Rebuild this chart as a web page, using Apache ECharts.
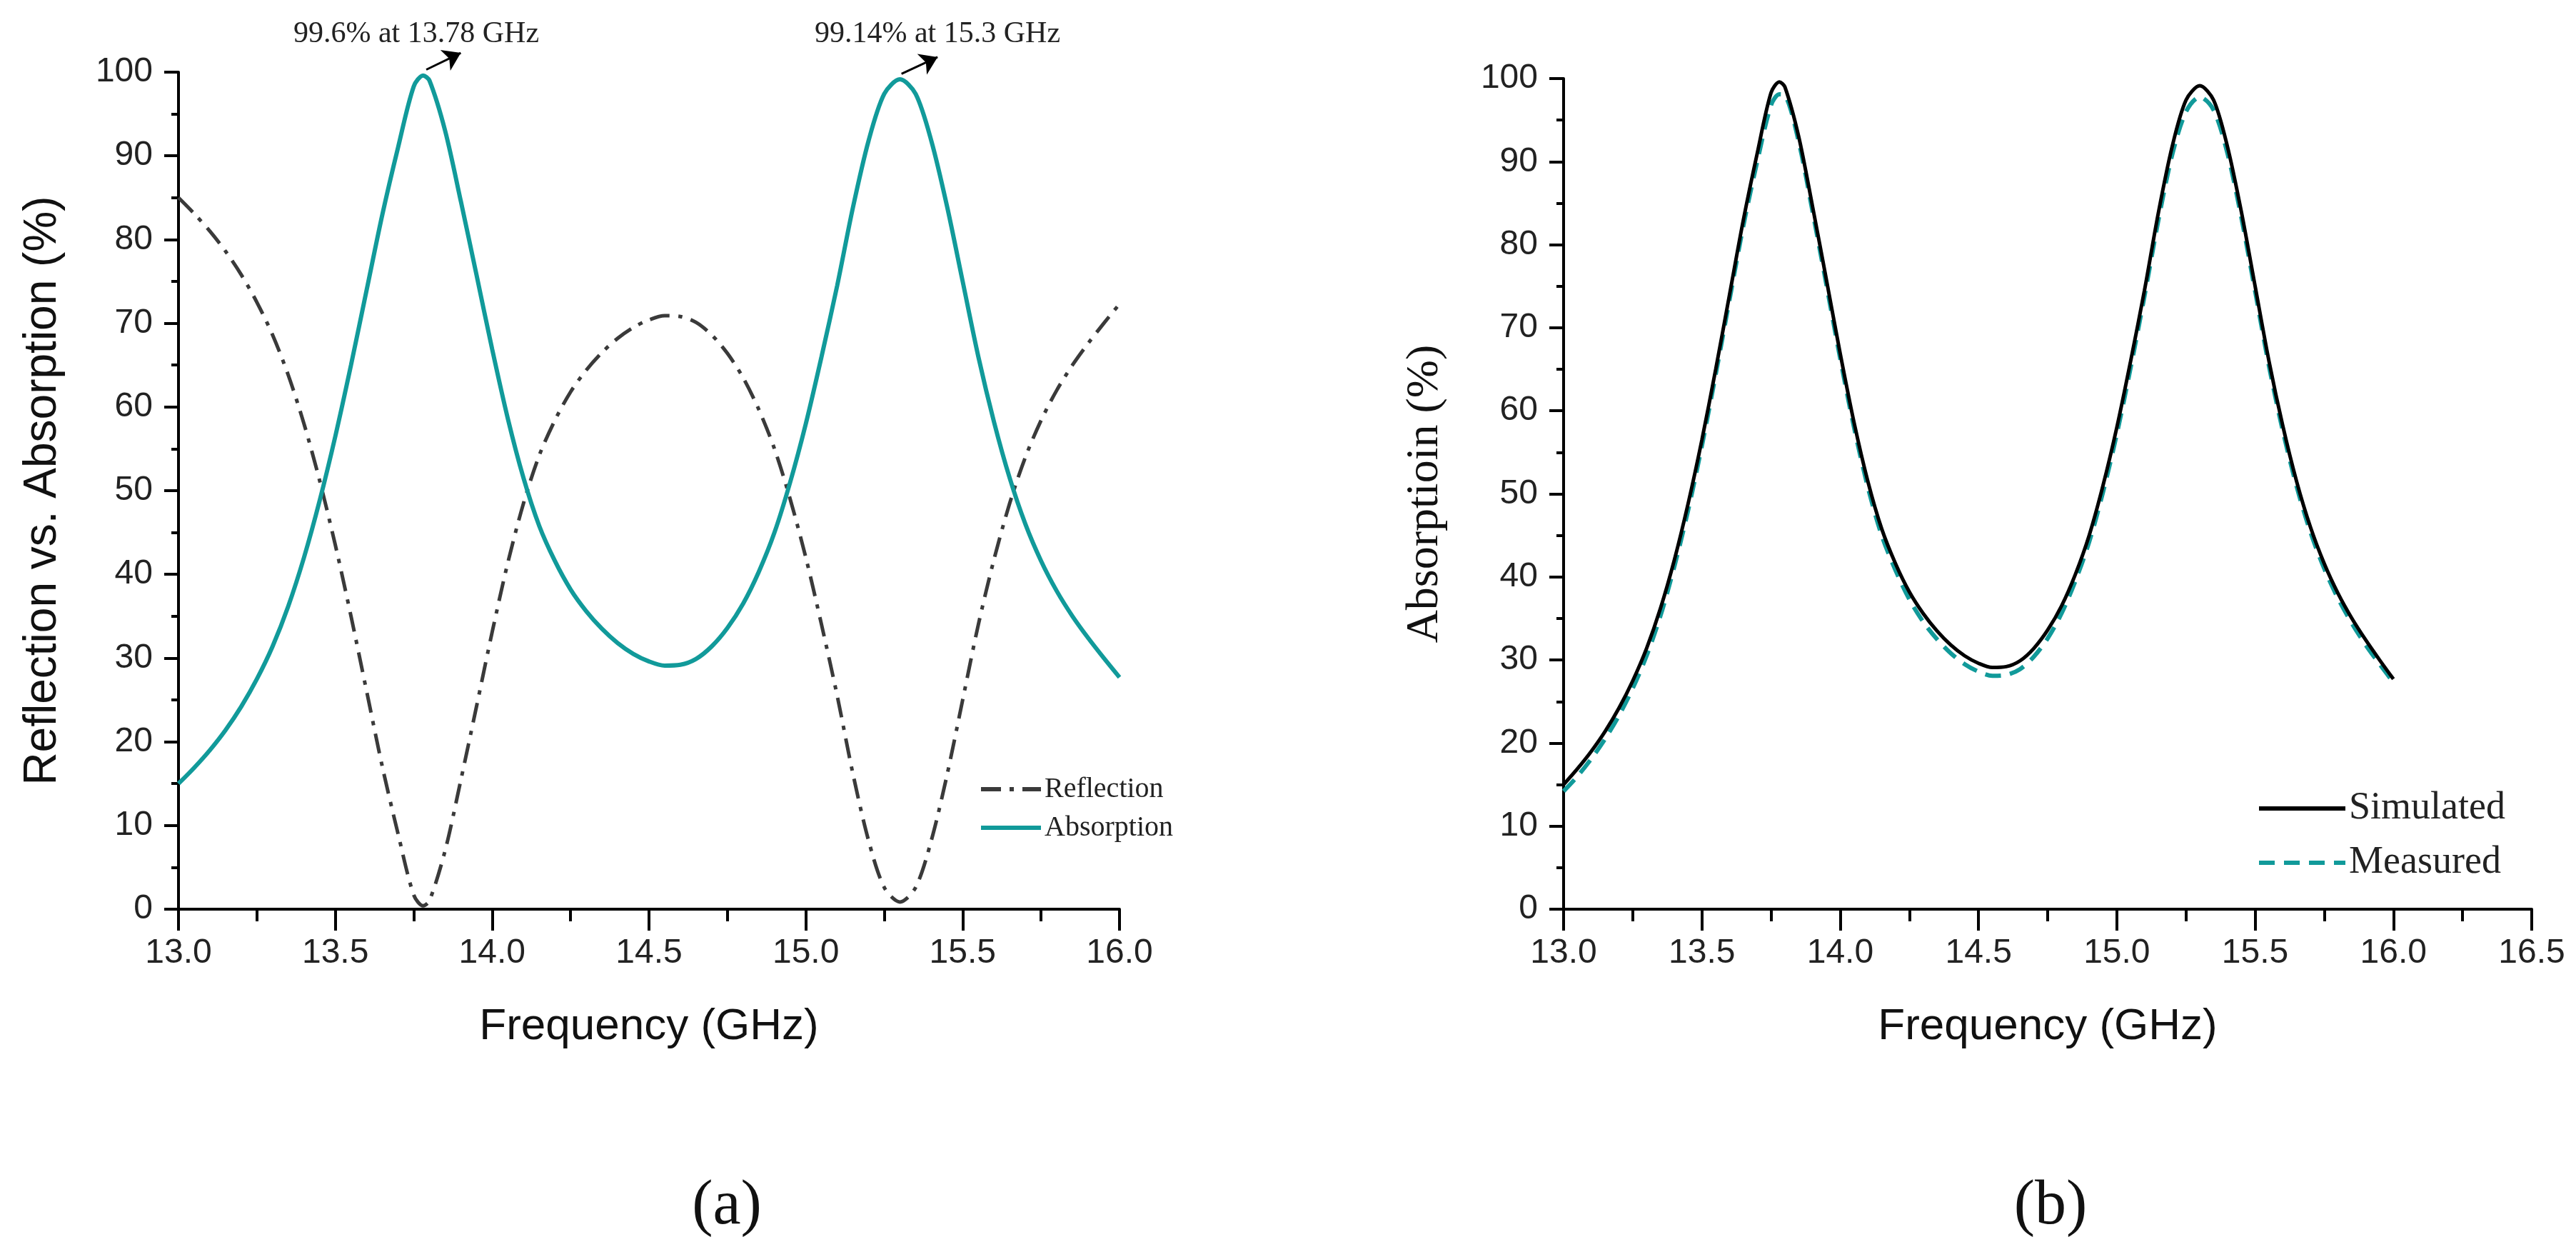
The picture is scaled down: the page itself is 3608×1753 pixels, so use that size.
<!DOCTYPE html>
<html>
<head>
<meta charset="utf-8">
<title>Reflection vs. Absorption</title>
<script src="https://cdn.jsdelivr.net/npm/echarts@6.0.0/dist/echarts.min.js"></script>
<style>
  html, body { margin: 0; padding: 0; background: #fff; }
  #chart { width: 3608px; height: 1753px; }
</style>
</head>
<body>
<div id="chart"></div>
<script>
// 频率点 (GHz)
const freq = [13.00, 13.05, 13.10, 13.15, 13.20, 13.25, 13.30, 13.35, 13.40, 13.45,
  13.50, 13.55, 13.60, 13.65, 13.70, 13.75, 13.78, 13.80, 13.85, 13.90,
  13.95, 14.00, 14.05, 14.10, 14.15, 14.20, 14.25, 14.30, 14.35, 14.40,
  14.45, 14.50, 14.55, 14.60, 14.65, 14.70, 14.75, 14.80, 14.85, 14.90,
  14.95, 15.00, 15.05, 15.10, 15.15, 15.20, 15.25, 15.30, 15.35, 15.40,
  15.45, 15.50, 15.55, 15.60, 15.65, 15.70, 15.75, 15.80, 15.85, 15.90,
  15.95, 16.00];

// (a) 吸收率 / (b) 仿真值
const absorption = [15.0, 16.9, 19.0, 21.4, 24.2, 27.5, 31.4, 36.2, 42.0, 48.8,
  56.5, 65.0, 74.0, 83.0, 91.0, 98.3, 99.6, 99.0, 93.0, 84.6,
  75.8, 66.9, 58.6, 51.5, 45.8, 41.6, 38.2, 35.6, 33.5, 31.8,
  30.5, 29.6, 29.1, 29.2, 29.9, 31.4, 33.6, 36.5, 40.3, 45.0,
  51.0, 58.0, 66.0, 74.5, 83.8, 91.8, 97.4, 99.14, 97.4, 91.8,
  84.0, 75.0, 66.0, 58.2, 51.5, 46.0, 41.6, 38.0, 35.0, 32.4,
  30.0, 27.7];

// (a) 反射率
const reflection = [85.0, 83.1, 81.0, 78.6, 75.8, 72.5, 68.6, 63.8, 58.0, 51.2,
  43.5, 35.0, 26.0, 17.0, 9.0, 1.7, 0.4, 1.0, 7.0, 15.4,
  24.2, 33.1, 41.4, 48.5, 54.2, 58.4, 61.8, 64.4, 66.5, 68.2,
  69.5, 70.4, 70.9, 70.8, 70.1, 68.6, 66.4, 63.5, 59.7, 55.0,
  49.0, 42.0, 34.0, 25.5, 16.2, 8.2, 2.6, 0.86, 2.6, 8.2,
  16.0, 25.0, 34.0, 41.8, 48.5, 54.0, 58.4, 62.0, 65.0, 67.6,
  70.0, 72.3];

// (b) 测量值
const measured = [14.2, 16.0, 18.1, 20.5, 23.3, 26.6, 30.5, 35.3, 41.2, 48.0,
  55.8, 64.4, 73.4, 82.3, 90.0, 96.8, 98.1, 98.0, 92.4, 84.0,
  75.2, 66.3, 58.0, 50.8, 45.0, 40.8, 37.3, 34.6, 32.5, 30.8,
  29.5, 28.6, 28.1, 28.2, 28.9, 30.4, 32.6, 35.6, 39.5, 44.2,
  50.2, 57.2, 65.2, 73.8, 82.9, 90.8, 96.0, 97.8, 96.2, 91.0,
  83.3, 74.4, 65.4, 57.6, 50.9, 45.4, 41.0, 37.4, 34.4, 31.8,
  29.5, 27.3];

// 峰值标注 (文字 + 箭头起止点, 数据坐标)
const peakNotes = ['99.6% at 13.78 GHz', '99.14% at 15.3 GHz'];
const peakArrows = [
  [[13.79, 100.3], [13.90, 102.3]],
  [[15.305, 99.8], [15.42, 101.8]]
];

const TEAL = '#119a9a';
const SANS = "'Liberation Sans Narrow', 'Liberation Sans', Arial, sans-serif";
const SERIF = "'Liberation Serif', 'Times New Roman', serif";

function pairs(ys) {
  return freq.map((f, i) => [f, ys[i]]);
}

function xAxisCfg(grid, max) {
  return {
    type: 'value', gridIndex: grid, min: 13, max: max, interval: 0.5,
    name: 'Frequency (GHz)', nameLocation: 'middle', nameGap: 134,
    nameTextStyle: { fontFamily: SANS, fontSize: 62, color: '#111' },
    axisLine: { onZero: false, lineStyle: { color: '#000', width: 4 } },
    axisTick: { length: 30, lineStyle: { width: 4, color: '#000' } },
    minorTick: { show: true, splitNumber: 2, length: 17, lineStyle: { width: 4, color: '#000' } },
    axisLabel: { margin: 38, fontFamily: SANS, fontSize: 48, color: '#222',
      formatter: v => v.toFixed(1) },
    splitLine: { show: false }
  };
}

function yAxisCfg(grid, name, font, gap) {
  return {
    type: 'value', gridIndex: grid, min: 0, max: 100, interval: 10,
    name: name, nameLocation: 'middle', nameGap: gap,
    nameTextStyle: { fontFamily: font, fontSize: 64, color: '#111' },
    axisLine: { onZero: false, lineStyle: { color: '#000', width: 4 } },
    axisTick: { length: 20, lineStyle: { width: 4, color: '#000' } },
    minorTick: { show: true, splitNumber: 2, length: 10, lineStyle: { width: 4, color: '#000' } },
    axisLabel: { margin: 36, fontFamily: SANS, fontSize: 48, color: '#222' },
    splitLine: { show: false }
  };
}

const chart = echarts.init(document.getElementById('chart'));

const option = {
  backgroundColor: '#fff',
  animation: false,
  grid: [
    { left: 250, top: 101, width: 1318, height: 1172 },
    { left: 2190, top: 110, width: 1356, height: 1163 }
  ],
  xAxis: [xAxisCfg(0, 16), xAxisCfg(1, 16.5)],
  yAxis: [
    yAxisCfg(0, 'Reflection vs. Absorption (%)', "'Liberation Sans', Arial, sans-serif", 158),
    yAxisCfg(1, 'Absorptioin (%)', SERIF, 162)
  ],
  legend: [
    {
      data: ['Reflection', 'Absorption'],
      orient: 'vertical', left: 1366, top: 1080,
      itemWidth: 84, itemHeight: 20, itemGap: 14,
      itemStyle: { opacity: 0 },
      lineStyle: { width: 6 },
      textStyle: { fontFamily: SERIF, fontSize: 40, lineHeight: 40, color: '#222' }
    },
    {
      data: ['Simulated', 'Measured'],
      orient: 'vertical', left: 3156, top: 1100,
      itemWidth: 121, itemHeight: 24, itemGap: 22,
      itemStyle: { opacity: 0 },
      lineStyle: { width: 6 },
      textStyle: { fontFamily: SERIF, fontSize: 54, lineHeight: 54, color: '#222' }
    }
  ],
  graphic: [
    { type: 'text', x: 583, y: 48, style: { text: peakNotes[0], font: '42px ' + SERIF, fill: '#222', align: 'center', verticalAlign: 'middle' } },
    { type: 'text', x: 1313, y: 48, style: { text: peakNotes[1], font: '42px ' + SERIF, fill: '#222', align: 'center', verticalAlign: 'middle' } },
    { type: 'text', x: 1018, y: 1690, style: { text: '(a)', font: '88px ' + SERIF, fill: '#111', align: 'center', verticalAlign: 'middle' } },
    { type: 'text', x: 2872, y: 1690, style: { text: '(b)', font: '88px ' + SERIF, fill: '#111', align: 'center', verticalAlign: 'middle' } }
  ],
  series: [
    {
      name: 'Reflection', type: 'line', xAxisIndex: 0, yAxisIndex: 0,
      data: pairs(reflection), showSymbol: false, symbol: 'none', smooth: 0.3,
      lineStyle: { color: '#3a3a3a', width: 5, type: [28, 12, 6, 12] },
      itemStyle: { color: '#3a3a3a' }
    },
    {
      name: 'Absorption', type: 'line', xAxisIndex: 0, yAxisIndex: 0,
      data: pairs(absorption), showSymbol: false, symbol: 'none', smooth: 0.3,
      lineStyle: { color: TEAL, width: 6 }, itemStyle: { color: TEAL }
    },
    {
      name: 'Simulated', type: 'line', xAxisIndex: 1, yAxisIndex: 1,
      data: pairs(absorption), showSymbol: false, symbol: 'none', smooth: 0.3,
      lineStyle: { color: '#000', width: 5 }, itemStyle: { color: '#000' }, z: 3
    },
    {
      name: 'Measured', type: 'line', xAxisIndex: 1, yAxisIndex: 1,
      data: pairs(measured), showSymbol: false, symbol: 'none', smooth: 0.3,
      lineStyle: { color: TEAL, width: 6, type: [22, 13] }, itemStyle: { color: TEAL }, z: 2
    }
  ]
};

chart.setOption(option);

// 箭头端点超出 y 轴范围, 先用坐标系换算成像素再画
const arrowData = peakArrows.map(a => {
  const p0 = chart.convertToPixel({ gridIndex: 0 }, a[0]);
  const p1 = chart.convertToPixel({ gridIndex: 0 }, a[1]);
  return [{ x: p0[0], y: p0[1] }, { x: p1[0], y: p1[1] }];
});

chart.setOption({
  series: [{
    name: 'Absorption',
    markLine: {
      silent: true, animation: false,
      symbol: ['none', 'arrow'], symbolSize: 24,
      label: { show: false },
      lineStyle: { color: '#000', width: 3, type: 'solid' },
      data: arrowData
    }
  }]
});

window.addEventListener('resize', function() {
  chart.resize();
});
</script>
</body>
</html>
